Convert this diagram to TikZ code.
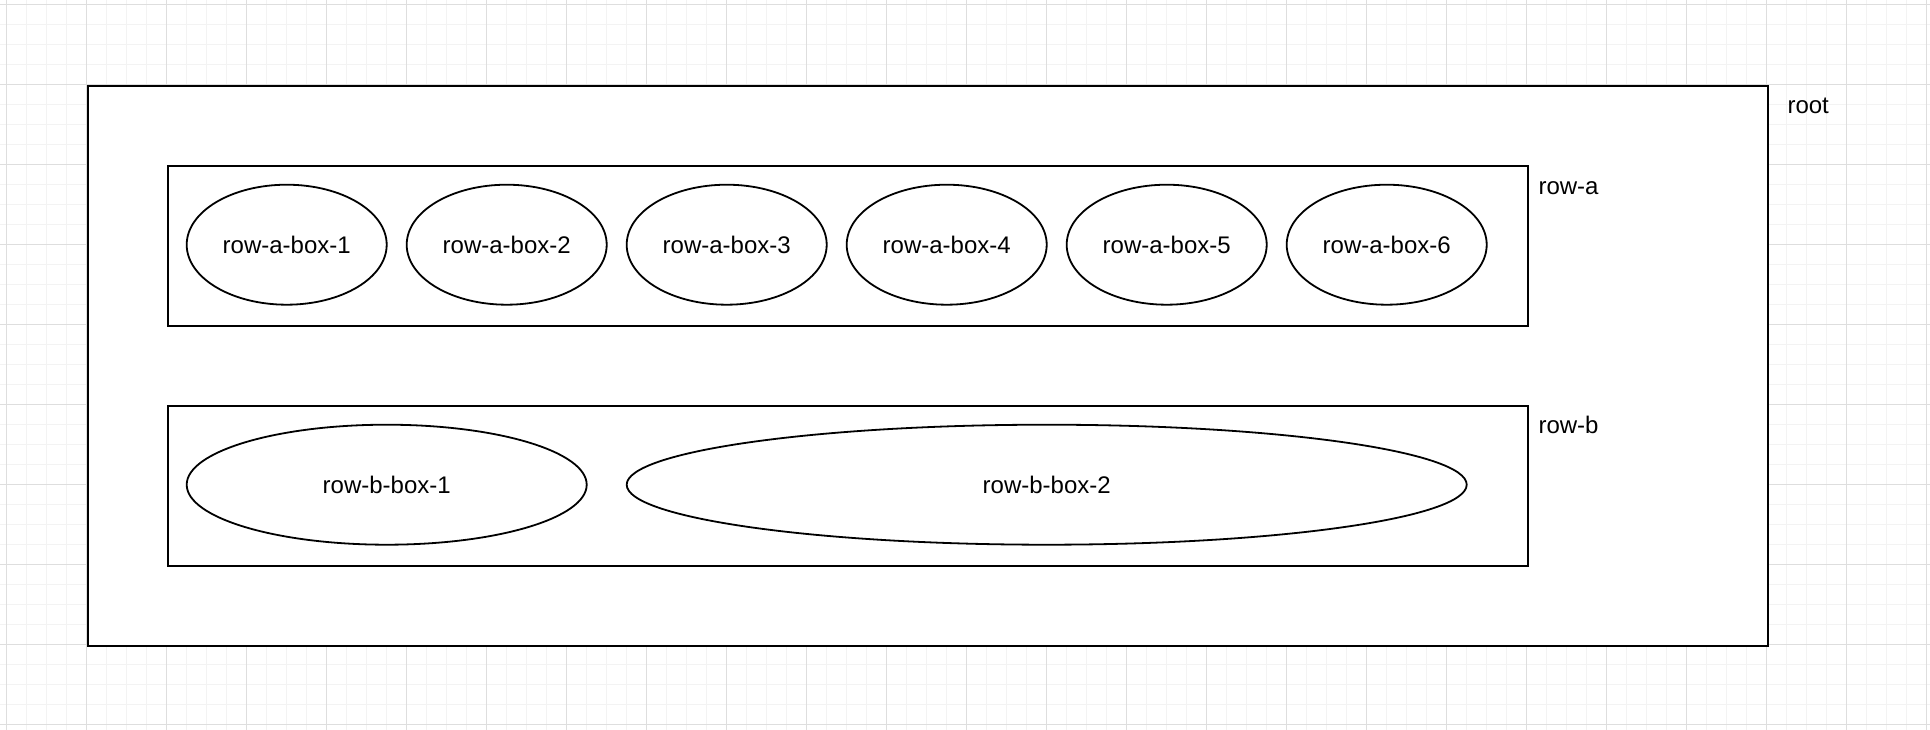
\documentclass[tikz,border=0pt]{standalone}
\usepackage{fontspec}
\setmainfont{Liberation Sans}
\usetikzlibrary{shapes.geometric}
\definecolor{gridmajor}{RGB}{222,222,222}
\definecolor{gridminor}{RGB}{243,243,243}
\begin{document}
\begin{tikzpicture}[x=1pt,y=-1pt,
  container/.style={draw=black, line width=2pt, fill=white, rectangle, inner sep=0pt, anchor=north west},
  leaf/.style={draw=black, line width=1.8pt, fill=white, ellipse, inner sep=0pt, minimum height=120pt, font=\fontsize{24}{28}\selectfont},
  lbl/.style={anchor=base west, inner sep=0pt, font=\fontsize{24}{28}\selectfont}]
\useasboundingbox (0,0) rectangle (1930,730);
\fill[white] (0,0) rectangle (1930,730);
% grid
\foreach \x in {26.7,46.7,...,1926.7} \draw[gridminor, line width=1pt] (\x,0) -- (\x,730);
\foreach \y in {24.7,44.7,...,724.7} \draw[gridminor, line width=1pt] (0,\y) -- (1930,\y);
\foreach \x in {6.7,86.7,...,1926.7} \draw[gridmajor, line width=1pt] (\x,0) -- (\x,730);
\foreach \y in {4.7,84.7,...,724.7} \draw[gridmajor, line width=1pt] (0,\y) -- (1930,\y);
% containers
\node[container, minimum width=1680pt, minimum height=560pt] (root) at (86.7,84.7) {};
\node[lbl] (rootlbl) at (1787.3,114) {root};
\node[container, minimum width=1360pt, minimum height=160pt] (rowa) at (166.7,164.7) {};
\node[lbl] (rowalbl) at (1538.3,194.3) {row-a};
\node[container, minimum width=1360pt, minimum height=160pt] (rowb) at (166.7,404.7) {};
\node[lbl] (rowblbl) at (1538.3,433.8) {row-b};
% row a ellipses
\node[leaf, minimum width=200pt] (a1) at (286.7,244.7) {row-a-box-1};
\node[leaf, minimum width=200pt] (a2) at (506.7,244.7) {row-a-box-2};
\node[leaf, minimum width=200pt] (a3) at (726.7,244.7) {row-a-box-3};
\node[leaf, minimum width=200pt] (a4) at (946.7,244.7) {row-a-box-4};
\node[leaf, minimum width=200pt] (a5) at (1166.7,244.7) {row-a-box-5};
\node[leaf, minimum width=200pt] (a6) at (1386.7,244.7) {row-a-box-6};
% row b ellipses
\node[leaf, minimum width=400pt] (b1) at (386.7,484.7) {row-b-box-1};
\node[leaf, minimum width=840pt] (b2) at (1046.7,484.7) {row-b-box-2};
\end{tikzpicture}
\end{document}
